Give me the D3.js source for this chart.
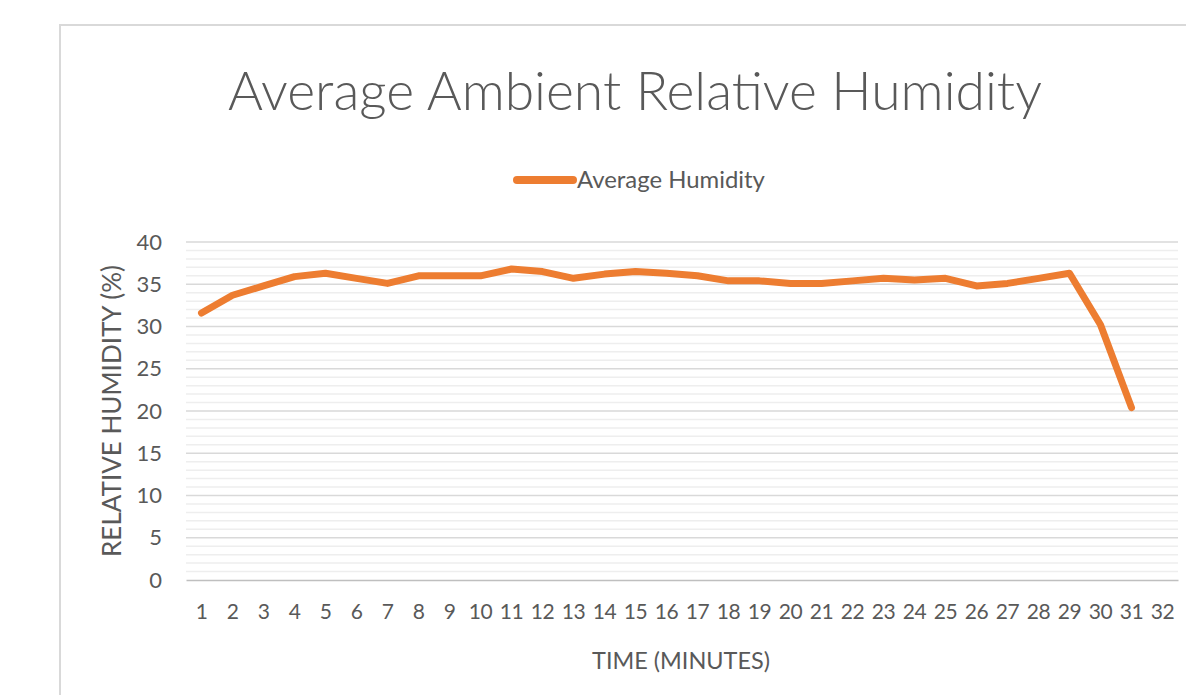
<!DOCTYPE html>
<html>
<head>
<meta charset="utf-8">
<script src="https://cdnjs.cloudflare.com/ajax/libs/d3/7.8.5/d3.min.js"></script>
<style>
  body { margin: 0; background: #fff; }
  text { font-family: Lato, "Open Sans", sans-serif; fill: #595959; }
</style>
</head>
<body>
<div id="chart"></div>
<script>
var width = 1186;
var height = 695;

// data
var minutes = ["1","2","3","4","5","6","7","8","9","10","11","12","13","14","15","16",
               "17","18","19","20","21","22","23","24","25","26","27","28","29","30","31","32"];
var humidity = [31.6, 33.7, 34.8, 35.9, 36.3, 35.7, 35.1, 36.0, 36.0, 36.0, 36.8, 36.5,
                35.7, 36.2, 36.5, 36.3, 36.0, 35.4, 35.4, 35.1, 35.1, 35.4, 35.7, 35.5,
                35.7, 34.8, 35.1, 35.7, 36.3, 30.2, 20.4];
var yTicks = [0, 5, 10, 15, 20, 25, 30, 35, 40];
var minorTicks = d3.range(0, 41, 1);

var margin = {left: 186, right: 1178, top: 242, bottom: 580};

var svg = d3.select("#chart").append("svg")
  .attr("width", width)
  .attr("height", height);

// scale a text's font so it takes the width seen in the picture
function fitWidth(sel, size, target) {
  sel.attr("font-size", size);
  var w = sel.node().getComputedTextLength();
  sel.attr("font-size", size * target / w);
}

// chart frame (runs off the right and bottom of the picture)
svg.append("rect")
  .attr("x", 60).attr("y", 25)
  .attr("width", 1200).attr("height", 720)
  .attr("fill", "#fff")
  .attr("stroke", "#d9d9d9")
  .attr("stroke-width", 2);

var x = d3.scaleBand().domain(minutes).range([margin.left, margin.right]);
var y = d3.scaleLinear().domain([0, 40]).range([margin.bottom, margin.top]);

// minor gridlines
svg.append("g")
  .selectAll("line")
  .data(minorTicks.filter(function(d) { return d % 5 != 0; }))
  .enter().append("line")
  .attr("x1", margin.left).attr("x2", margin.right)
  .attr("y1", function(d) { return y(d); })
  .attr("y2", function(d) { return y(d); })
  .attr("stroke", "#eeeeee")
  .attr("stroke-width", 1.5);

// major gridlines
svg.append("g")
  .selectAll("line")
  .data(yTicks.slice(1))
  .enter().append("line")
  .attr("x1", margin.left).attr("x2", margin.right)
  .attr("y1", function(d) { return y(d); })
  .attr("y2", function(d) { return y(d); })
  .attr("stroke", "#d9d9d9")
  .attr("stroke-width", 1.5);

// y axis labels
var yAxis = svg.append("g")
  .attr("transform", "translate(" + (margin.left - 24) + ",0)")
  .call(d3.axisLeft(y).tickValues(yTicks).tickSize(0).tickPadding(0));
yAxis.select(".domain").remove();
yAxis.selectAll("text")
  .attr("font-size", 22)
  .style("font-family", "Lato, sans-serif")
  .attr("fill", "#595959");

// x axis
var xAxis = svg.append("g")
  .attr("transform", "translate(0," + margin.bottom + ")")
  .call(d3.axisBottom(x).tickSize(0).tickPadding(24));
xAxis.select(".domain")
  .attr("stroke", "#bfbfbf")
  .attr("stroke-width", 1.5);
xAxis.selectAll("text")
  .attr("font-size", 21)
  .attr("letter-spacing", -0.5)
  .style("font-family", "Lato, sans-serif")
  .attr("fill", "#595959");

// line
var line = d3.line()
  .x(function(d, i) { return x(minutes[i]) + x.bandwidth() / 2; })
  .y(function(d) { return y(d); });

svg.append("path")
  .datum(humidity)
  .attr("d", line)
  .attr("fill", "none")
  .attr("stroke", "#ed7d31")
  .attr("stroke-width", 7)
  .attr("stroke-linejoin", "round")
  .attr("stroke-linecap", "round");

// title
var title = svg.append("text")
  .attr("x", 635).attr("y", 110)
  .attr("text-anchor", "middle")
  .style("font-weight", 300)
  .text("Average Ambient Relative Humidity");
fitWidth(title, 50, 814);

// legend
svg.append("line")
  .attr("x1", 517).attr("x2", 573)
  .attr("y1", 180).attr("y2", 180)
  .attr("stroke", "#ed7d31")
  .attr("stroke-width", 8)
  .attr("stroke-linecap", "round");
var legText = svg.append("text")
  .attr("x", 577).attr("y", 188)
  .text("Average Humidity");
fitWidth(legText, 21, 188);

// axis titles
var yTitle = svg.append("text")
  .attr("transform", "translate(121,411) rotate(-90)")
  .attr("text-anchor", "middle")
  .text("RELATIVE HUMIDITY (%)");
fitWidth(yTitle, 20, 292);

var xTitle = svg.append("text")
  .attr("x", 681).attr("y", 669)
  .attr("text-anchor", "middle")
  .text("TIME (MINUTES)");
fitWidth(xTitle, 20, 178);
</script>
</body>
</html>
